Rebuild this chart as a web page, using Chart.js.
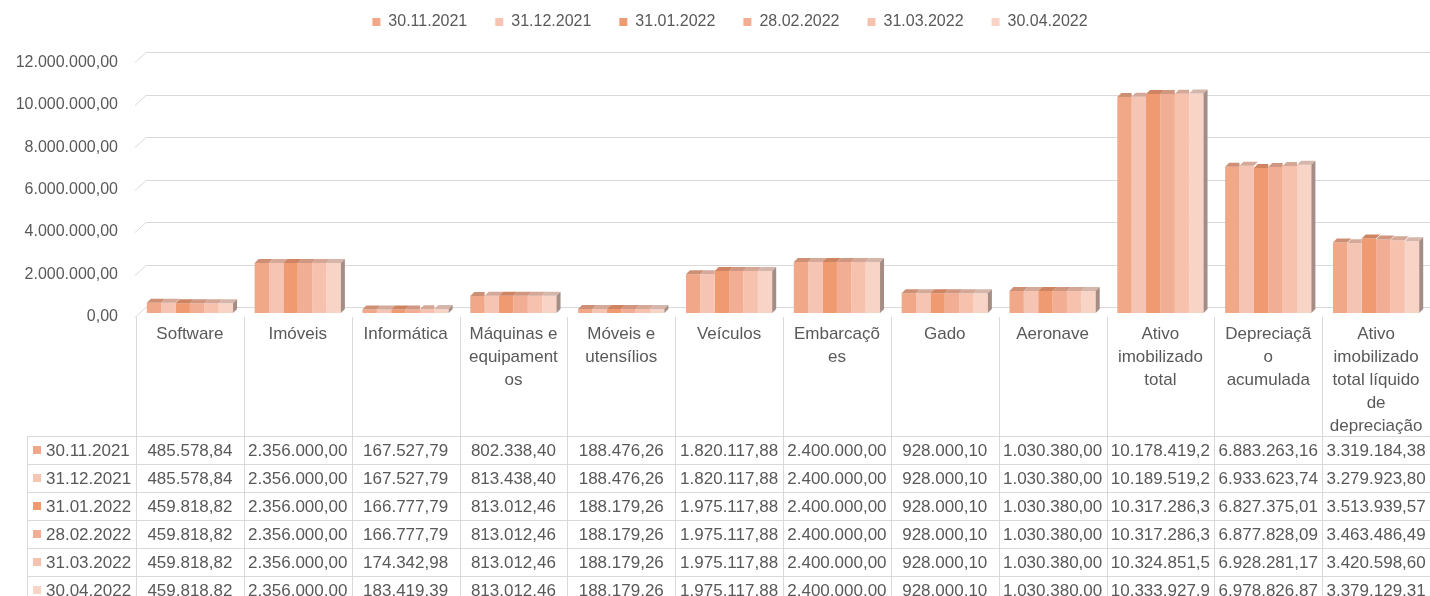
<!DOCTYPE html>
<html lang="pt-BR">
<head>
<meta charset="utf-8">
<title>Ativo imobilizado</title>
<script src="https://cdn.jsdelivr.net/npm/chart.js@4.4.1/dist/chart.umd.min.js"></script>
<style>
  html, body { margin: 0; padding: 0; background: #fff; overflow: hidden; }
  #wrap { position: relative; width: 1430px; height: 596px; }
</style>
</head>
<body>
<div id="wrap"><canvas id="imobilizadoChart"></canvas></div>
<script>
// Categorias (já quebradas em linhas como no Excel)
const categorias = [
    'Software',
    'Imóveis',
    'Informática',
    ['Máquinas e', 'equipament', 'os'],
    ['Móveis e', 'utensílios'],
    'Veículos',
    ['Embarcaçõ', 'es'],
    'Gado',
    'Aeronave',
    ['Ativo', 'imobilizado', 'total'],
    ['Depreciaçã', 'o', 'acumulada'],
    ['Ativo', 'imobilizado', 'total líquido', 'de', 'depreciação']
];

const datas = ['30.11.2021', '31.12.2021', '31.01.2022', '28.02.2022', '31.03.2022', '30.04.2022'];

// Valores por data
const nov21 = [485578.84, 2356000.00, 167527.79, 802338.40, 188476.26, 1820117.88, 2400000.00, 928000.10, 1030380.00, 10178419.27, 6883263.16, 3319184.38];
const dez21 = [485578.84, 2356000.00, 167527.79, 813438.40, 188476.26, 1820117.88, 2400000.00, 928000.10, 1030380.00, 10189519.27, 6933623.74, 3279923.80];
const jan22 = [459818.82, 2356000.00, 166777.79, 813012.46, 188179.26, 1975117.88, 2400000.00, 928000.10, 1030380.00, 10317286.31, 6827375.01, 3513939.57];
const fev22 = [459818.82, 2356000.00, 166777.79, 813012.46, 188179.26, 1975117.88, 2400000.00, 928000.10, 1030380.00, 10317286.31, 6877828.09, 3463486.49];
const mar22 = [459818.82, 2356000.00, 174342.98, 813012.46, 188179.26, 1975117.88, 2400000.00, 928000.10, 1030380.00, 10324851.50, 6928281.17, 3420598.60];
const abr22 = [459818.82, 2356000.00, 183419.39, 813012.46, 188179.26, 1975117.88, 2400000.00, 928000.10, 1030380.00, 10333927.91, 6978826.87, 3379129.31];

// Eixo Y: 0,00 .. 12.000.000,00
const yMin = 0;
const yMax = 12000000;
const yPasso = 2000000;

const valores = [nov21, dez21, jan22, fev22, mar22, abr22];
const cores = ['#F0A888', '#F6C4B2', '#EF9A70', '#F2AE94', '#F6C2AE', '#F8D4C6'];

const fonte = "'Liberation Sans', Arial, sans-serif";
const cinza = '#595959';
const linha = '#D9D9D9';

function formatarBR(v) {
    const [int, dec] = v.toFixed(2).split('.');
    return int.replace(/\B(?=(\d{3})+(?!\d))/g, '.') + ',' + dec;
}

function escurecer(hex, f) {
    const n = parseInt(hex.slice(1), 16);
    const r = Math.round(((n >> 16) & 255) * f);
    const g = Math.round(((n >> 8) & 255) * f);
    const b = Math.round((n & 255) * f);
    return `rgb(${r},${g},${b})`;
}

// Excel corta o texto que não cabe na célula
function caber(ctx, txt, max) {
    while (txt.length > 1 && ctx.measureText(txt).width > max) txt = txt.slice(0, -1);
    return txt;
}

// Grade "3D", topo e lateral das colunas, e tabela de dados
const efeito3d = {
    id: 'efeito3d',
    afterLayout(chart) {
        // no Excel a legenda fica um pouco à direita do centro
        chart.legend.left += 15;
        chart.legend.right += 15;
    },
    beforeDatasetsDraw(chart) {
        const { ctx, chartArea: a, scales: { y } } = chart;
        ctx.save();
        ctx.strokeStyle = linha;
        ctx.lineWidth = 1;
        y.ticks.forEach(t => {
            const py = Math.round(y.getPixelForValue(t.value)) + 0.5;
            ctx.beginPath();
            ctx.moveTo(a.left - 1, py + 4);
            ctx.lineTo(a.left + 10, py - 6);
            ctx.lineTo(a.right, py - 6);
            ctx.stroke();
        });
        ctx.restore();
    },
    afterDatasetsDraw(chart) {
        const { ctx } = chart;
        const d = 4;
        const metas = chart.data.datasets.map((_, i) => chart.getDatasetMeta(i));
        metas.forEach((meta, di) => {
            meta.data.forEach((bar, j) => {
                const { x, y, base, width } = bar.getProps(['x', 'y', 'base', 'width'], true);
                const l = x - width / 2, r = x + width / 2;
                const prox = metas[di + 1] && metas[di + 1].data[j];
                ctx.save();
                if (prox && prox.y < y) {
                    ctx.beginPath();
                    ctx.rect(l - 1, 0, r - l + 1, chart.height);
                    ctx.clip();
                }
                ctx.fillStyle = escurecer(cores[di], 0.86);
                ctx.beginPath();
                ctx.moveTo(l, y);
                ctx.lineTo(r, y);
                ctx.lineTo(r + d, y - d);
                ctx.lineTo(l + d, y - d);
                ctx.closePath();
                ctx.fill();
                ctx.restore();

                if (di === metas.length - 1) {
                    ctx.fillStyle = '#A58C84';
                    ctx.beginPath();
                    ctx.moveTo(r, y);
                    ctx.lineTo(r + d, y - d);
                    ctx.lineTo(r + d, base - d);
                    ctx.lineTo(r, base);
                    ctx.closePath();
                    ctx.fill();
                }
            });
        });
    },
    afterDraw(chart) {
        const { ctx, chartArea: a, scales: { x } } = chart;
        const n = categorias.length;
        const cw = (a.right - a.left) / n;
        const topo = a.bottom + 4;
        const cab = a.bottom + 123;
        const alt = 28;
        const esq = 27.5;

        ctx.save();
        ctx.strokeStyle = linha;
        ctx.lineWidth = 1;
        ctx.beginPath();
        for (let i = 0; i <= n; i++) {
            const px = Math.round(a.left + i * cw) + 0.5;
            ctx.moveTo(px, topo);
            ctx.lineTo(px, chart.height);
        }
        for (let k = 0; k <= datas.length; k++) {
            const py = cab + k * alt + 0.5;
            ctx.moveTo(esq, py);
            ctx.lineTo(a.right, py);
        }
        ctx.moveTo(esq, cab);
        ctx.lineTo(esq, chart.height);
        ctx.stroke();

        ctx.font = '17px ' + fonte;
        ctx.fillStyle = cinza;
        ctx.textAlign = 'center';
        ctx.textBaseline = 'middle';
        categorias.forEach((c, i) => {
            [].concat(c).forEach((t, k) => {
                ctx.fillText(t, x.getPixelForValue(i), a.bottom + 21 + k * 23);
            });
        });

        datas.forEach((dt, r) => {
            const cy = cab + r * alt + alt / 2 + 1;
            ctx.fillStyle = cores[r];
            ctx.fillRect(33, cy - 5, 8, 8);
            ctx.fillStyle = cinza;
            ctx.textAlign = 'left';
            ctx.fillText(dt, 46, cy);
            ctx.textAlign = 'center';
            valores[r].forEach((v, i) => {
                ctx.fillText(caber(ctx, formatarBR(v), cw - 6), x.getPixelForValue(i), cy);
            });
        });
        ctx.restore();
    }
};

const ctx = document.getElementById('imobilizadoChart');
new Chart(ctx, {
    type: 'bar',
    data: {
        labels: categorias,
        datasets: datas.map((d, i) => ({
            label: d,
            data: valores[i],
            backgroundColor: cores[i],
            borderWidth: 0,
            categoryPercentage: 0.8,
            barPercentage: 1.0
        }))
    },
    options: {
        responsive: true,
        maintainAspectRatio: false,
        animation: false,
        layout: { padding: { top: -14, left: 0, right: 0, bottom: 283 } },
        plugins: {
            legend: {
                position: 'top',
                labels: {
                    boxWidth: 8,
                    boxHeight: 8,
                    padding: 28,
                    color: cinza,
                    font: { family: fonte, size: 16 }
                }
            },
            // só um espaçador entre a legenda e a área do gráfico
            subtitle: {
                display: true,
                text: ' ',
                weight: 100,
                font: { size: 1 },
                padding: { top: 0, bottom: 17 }
            },
            tooltip: { enabled: false }
        },
        scales: {
            x: { display: false },
            y: {
                min: yMin,
                max: yMax,
                grid: { display: false, drawTicks: false },
                border: { display: false },
                ticks: {
                    stepSize: yPasso,
                    padding: 18,
                    labelOffset: 4,
                    color: cinza,
                    font: { family: fonte, size: 16 },
                    callback: v => formatarBR(v)
                },
                afterFit: s => { s.width = 136; }
            }
        }
    },
    plugins: [efeito3d]
});
</script>
</body>
</html>
